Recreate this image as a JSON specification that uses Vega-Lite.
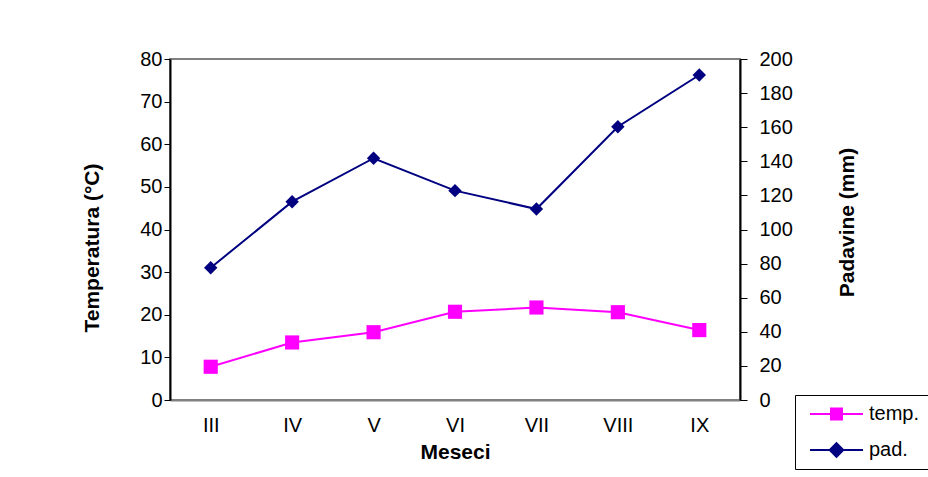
{
  "$schema": "https://vega.github.io/schema/vega-lite/v6.json",
  "autosize": {"type": "none"},
  "width": 570,
  "height": 341,
  "padding": {"left": 170, "top": 59, "right": 188, "bottom": 77},
  "background": "white",
  "config": {
    "font": "Liberation Sans",
    "view": {"stroke": "#808080", "strokeWidth": 2},
    "axis": {
      "labelFont": "Liberation Sans",
      "titleFont": "Liberation Sans",
      "labelFontSize": 20,
      "titleFontSize": 21,
      "titleFontWeight": "bold",
      "labelColor": "black",
      "titleColor": "black",
      "grid": false,
      "tickColor": "black",
      "domainColor": "black",
      "domainWidth": 2
    },
    "legend": {
      "orient": "none",
      "legendX": 625,
      "legendY": 336,
      "strokeColor": "black",
      "fillColor": "white",
      "padding": 8,
      "rowPadding": 15,
      "symbolSize": 400,
      "symbolStrokeWidth": 2,
      "labelOffset": 44,
      "labelFontSize": 20,
      "labelFont": "Liberation Sans",
      "labelColor": "black"
    }
  },
  "data": {
    "values": [
      {"mesec": "III", "temp": 7.8, "pad": 77.6},
      {"mesec": "IV", "temp": 13.5, "pad": 116.3},
      {"mesec": "V", "temp": 15.9, "pad": 141.8},
      {"mesec": "VI", "temp": 20.7, "pad": 122.8},
      {"mesec": "VII", "temp": 21.7, "pad": 112.0},
      {"mesec": "VIII", "temp": 20.6, "pad": 160.3},
      {"mesec": "IX", "temp": 16.4, "pad": 190.6}
    ]
  },
  "encoding": {
    "x": {
      "field": "mesec",
      "type": "ordinal",
      "sort": ["III", "IV", "V", "VI", "VII", "VIII", "IX"],
      "scale": {"type": "point", "padding": 0.5},
      "axis": {
        "title": "Meseci",
        "labelAngle": 0,
        "ticks": false,
        "tickSize": 0,
        "domainColor": "#808080",
        "labelPadding": 15,
        "titlePadding": 6
      }
    }
  },
  "layer": [
    {
      "mark": {"type": "line", "strokeWidth": 2, "point": {"shape": "square", "size": 200, "filled": true, "opacity": 1}},
      "encoding": {
        "y": {
          "field": "temp",
          "type": "quantitative",
          "scale": {"domain": [0, 80], "nice": false},
          "axis": {
            "orient": "left",
            "title": "Temperatura (°C)",
            "values": [0, 10, 20, 30, 40, 50, 60, 70, 80],
            "tickSize": 6,
            "labelPadding": 2,
            "titleX": -78,
            "titleY": 188.5,
            "titleAngle": 270,
            "titleAlign": "center",
            "titleBaseline": "middle"
          }
        },
        "color": {
          "datum": "temp.",
          "type": "nominal",
          "scale": {"domain": ["temp.", "pad."], "range": ["#FF00FF", "#000080"]},
          "legend": {
            "title": null,
            "encode": {
              "symbols": {
                "update": {
                  "shape": {"signal": "datum.value === 'temp.' ? 'M-0.4,0H4.9M1.7,-0.55H2.8V0.55H1.7Z' : 'M-0.4,0H4.9M2.25,-0.68L2.93,0L2.25,0.68L1.57,0Z'"},
                  "fill": {"scale": "color", "field": "value"},
                  "stroke": {"scale": "color", "field": "value"},
                  "opacity": {"value": 1}
                }
              }
            }
          }
        }
      }
    },
    {
      "mark": {"type": "line", "strokeWidth": 2, "point": {"shape": "diamond", "size": 180, "filled": true, "opacity": 1}},
      "encoding": {
        "y": {
          "field": "pad",
          "type": "quantitative",
          "scale": {"domain": [0, 200], "nice": false},
          "axis": {
            "orient": "right",
            "title": "Padavine (mm)",
            "values": [0, 20, 40, 60, 80, 100, 120, 140, 160, 180, 200],
            "tickSize": 7,
            "labelPadding": 12,
            "titleX": 107,
            "titleY": 163,
            "titleAngle": 270,
            "titleAlign": "center",
            "titleBaseline": "middle"
          }
        },
        "color": {
          "datum": "pad.",
          "type": "nominal",
          "scale": {"domain": ["temp.", "pad."], "range": ["#FF00FF", "#000080"]},
          "legend": {
            "title": null,
            "encode": {
              "symbols": {
                "update": {
                  "shape": {"signal": "datum.value === 'temp.' ? 'M-0.4,0H4.9M1.7,-0.55H2.8V0.55H1.7Z' : 'M-0.4,0H4.9M2.25,-0.68L2.93,0L2.25,0.68L1.57,0Z'"},
                  "fill": {"scale": "color", "field": "value"},
                  "stroke": {"scale": "color", "field": "value"},
                  "opacity": {"value": 1}
                }
              }
            }
          }
        }
      }
    }
  ],
  "resolve": {"scale": {"y": "independent"}, "axis": {"y": "independent"}}
}
